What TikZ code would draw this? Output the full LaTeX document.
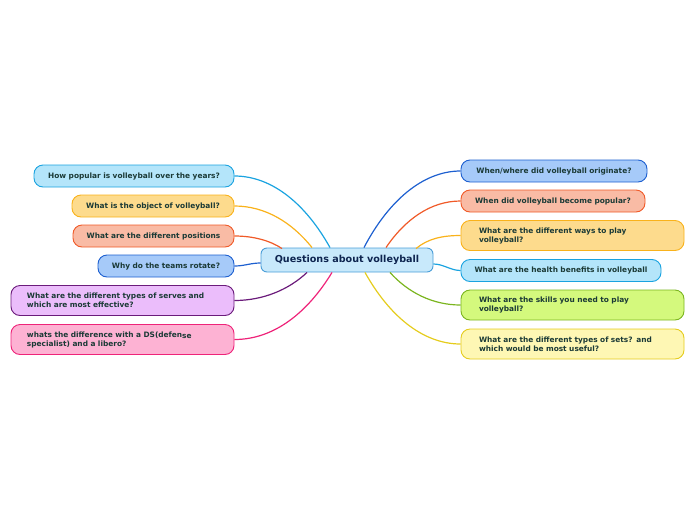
\documentclass[tikz,border=0pt]{standalone}
\usepackage{fontspec}
\setmainfont{DejaVu Sans}
\definecolor{txt}{HTML}{1B3A36}
\definecolor{ctxt}{HTML}{0E2550}
\definecolor{cyanB}{HTML}{1AA3E0}\definecolor{cyanF}{HTML}{B4E5FA}
\definecolor{orB}{HTML}{F9B21B}\definecolor{orF}{HTML}{FDDB8D}
\definecolor{redB}{HTML}{F05A28}\definecolor{redF}{HTML}{F9BBA5}
\definecolor{bluB}{HTML}{1D5FD0}\definecolor{bluF}{HTML}{A6CAF9}
\definecolor{purB}{HTML}{6B1B7B}\definecolor{purF}{HTML}{EBBDFB}
\definecolor{pinB}{HTML}{EE2379}\definecolor{pinF}{HTML}{FDB2D3}
\definecolor{grnB}{HTML}{7BB51F}\definecolor{grnF}{HTML}{D4F97D}
\definecolor{yelB}{HTML}{E5CC1D}\definecolor{yelF}{HTML}{FEF7B4}
\definecolor{cenB}{HTML}{4A9ED8}\definecolor{cenF}{HTML}{C8E9FB}
\tikzset{
  topic/.style={rectangle, rounded corners=9pt, line width=0.9pt, text=txt,
    font=\fontsize{7.4}{9}\selectfont\bfseries, inner ysep=0pt, minimum height=22pt},
  onel/.style={topic, align=center, inner xsep=2pt},
  twol/.style={topic, align=left, inner xsep=16pt, minimum height=30pt},
  link/.style={line width=1.2pt},
}
\begin{document}
\begin{tikzpicture}[x=1pt,y=-1pt]
\useasboundingbox (0,0) rectangle (696,520);
\node[draw=cenB, fill=cenF, rounded corners=6pt, line width=0.9pt, minimum width=172pt, minimum height=24pt, inner sep=0pt, text=ctxt, font=\fontsize{9.6}{11}\selectfont\bfseries] (c) at (347,260) {Questions about volleyball};
% left
\node[onel, draw=cyanB, fill=cyanF, text width=196pt] (l1) at (134,176) {How popular is volleyball over the years?};
\node[onel, draw=orB, fill=orF, text width=158pt] (l2) at (153,206) {What is the object of volleyball?};
\node[onel, draw=redB, fill=redF, text width=157pt] (l3) at (153.5,236) {What are the different positions};
\node[onel, draw=bluB, fill=bluF, text width=132pt] (l4) at (166,266) {Why do the teams rotate?};
\node[twol, draw=purB, fill=purF, text width=191pt] (l5) at (122.5,300.5) {What are the different types of serves and\\which are most effective?};
\node[twol, draw=pinB, fill=pinF, text width=191pt] (l6) at (122.5,339.5) {whats the difference with a DS(defen\raisebox{-1.3pt}{se}\\specialist) and a libero?};
% right
\node[onel, draw=bluB, fill=bluF, text width=182pt] (r1) at (554,171) {When/where did volleyball originate?};
\node[onel, draw=redB, fill=redF, text width=180pt] (r2) at (553,201) {When did volleyball become popular?};
\node[twol, draw=orB, fill=orF, text width=187pt, inner xsep=18pt] (r3) at (572.5,235.5) {What are the different ways to play\\volleyball?};
\node[onel, draw=cyanB, fill=cyanF, text width=196pt] (r4) at (561,270.5) {What are the health benefits in volleyball};
\node[twol, draw=grnB, fill=grnF, text width=187pt, inner xsep=18pt] (r5) at (572.5,305) {What are the skills you need to play\\volleyball?};
\node[twol, draw=yelB, fill=yelF, text width=187pt, inner xsep=18pt] (r6) at (572.5,344) {What are the different types of sets? and\\which would be most useful?};
% connectors
\draw[link, cyanB] ([xshift=-17pt]c.north) .. controls +(-24,-43) and +(38,0) .. (l1.east);
\draw[link, orB] ([xshift=-35pt]c.north) .. controls +(-20,-25) and +(31,0) .. (l2.east);
\draw[link, redB] ([xshift=-65pt,yshift=-1pt]c.north) .. controls +(-12,-8) and +(19,0) .. (l3.east);
\draw[link, bluB] ([yshift=-3pt]c.west) .. controls +(-10,0) and +(10,0) .. (l4.east);
\draw[link, purB] ([xshift=-40pt]c.south) .. controls +(-18,17) and +(29,0) .. (l5.east);
\draw[link, pinB] ([xshift=-15pt]c.south) .. controls +(-25,41) and +(39,0) .. (l6.east);
\draw[link, bluB] ([xshift=17pt]c.north) .. controls +(24,-46) and +(-38,0) .. (r1.west);
\draw[link, redB] ([xshift=39pt]c.north) .. controls +(19,-28) and +(-30,0) .. (r2.west);
\draw[link, orB] ([xshift=69pt,yshift=-1pt]c.north) .. controls +(12,-10) and +(-18,0) .. (r3.west);
\draw[link, cyanB] ([yshift=-4pt]c.east) .. controls +(10,0) and +(-10,0) .. (r4.west);
\draw[link, grnB] ([xshift=43pt]c.south) .. controls +(18,20) and +(-28,0) .. (r5.west);
\draw[link, yelB] ([xshift=18pt]c.south) .. controls +(24,43) and +(-38,0) .. (r6.west);
\end{tikzpicture}
\end{document}
